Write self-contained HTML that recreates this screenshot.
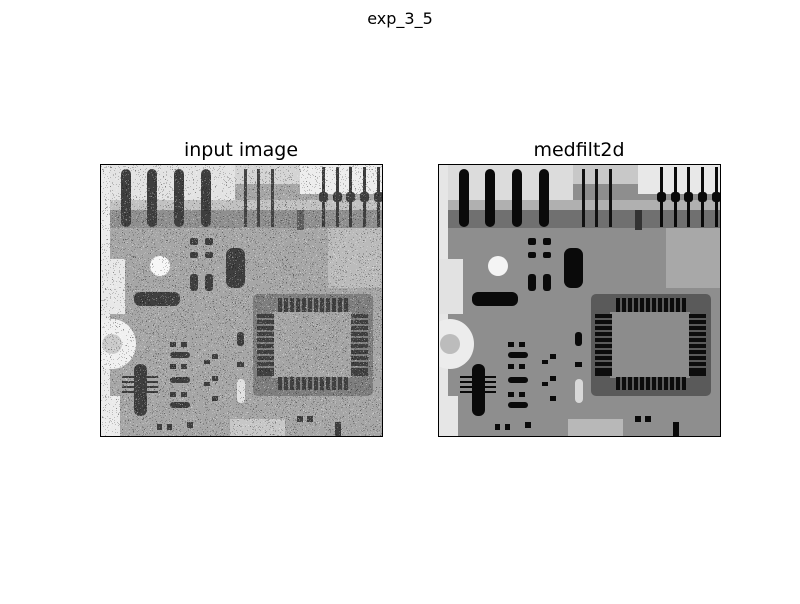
<!DOCTYPE html>
<html><head><meta charset="utf-8"><style>
html,body{margin:0;padding:0;background:#fff;}
body{width:800px;height:600px;overflow:hidden;font-family:"DejaVu Sans","Liberation Sans",sans-serif;}
</style></head><body>
<svg width="800" height="600" viewBox="0 0 800 600" xmlns="http://www.w3.org/2000/svg">
<defs>
  <clipPath id="clipL"><rect x="0" y="0" width="282" height="272"/></clipPath>
  <filter id="sp" x="0" y="0" width="1" height="1">
    <feTurbulence type="fractalNoise" baseFrequency="1.3" numOctaves="1" seed="4" result="n"/>
    <feColorMatrix in="n" type="matrix" values="1 0 0 0 0  1 0 0 0 0  1 0 0 0 0  1 0 0 0 0" result="g"/>
    <feComponentTransfer in="g">
      <feFuncR type="discrete" tableValues="0 0 0 0 0 1 1 1 1 1"/>
      <feFuncG type="discrete" tableValues="0 0 0 0 0 1 1 1 1 1"/>
      <feFuncB type="discrete" tableValues="0 0 0 0 0 1 1 1 1 1"/>
      <feFuncA type="discrete" tableValues="1 1 0.8 0 0 0 0 0.8 1 1"/>
    </feComponentTransfer>
  </filter>
  <g id="board">
    <rect x="0" y="0" width="282" height="272" fill="#8e8e8e"/>
    <rect x="0" y="0" width="135" height="36" fill="#dcdcdc"/>
    <rect x="0" y="36" width="282" height="10" fill="#b0b0b0"/>
    <rect x="0" y="46" width="282" height="18" fill="#707070"/>
    <rect x="200" y="0" width="82" height="30" fill="#e8e8e8"/>
    <rect x="135" y="0" width="65" height="20" fill="#c8c8c8"/>
    <rect x="0" y="0" width="10" height="272" fill="#e6e6e6"/>
    <rect x="0" y="95" width="25" height="55" fill="#e2e2e2"/>
    <ellipse cx="12" cy="180" rx="24" ry="25" fill="#ececec"/>
    <ellipse cx="12" cy="180" rx="10" ry="10" fill="#bcbcbc"/>
    <rect x="0" y="232" width="20" height="40" fill="#e6e6e6"/>
    <rect x="228" y="64" width="54" height="60" fill="#a8a8a8"/>
    <rect x="130" y="255" width="55" height="17" fill="#b8b8b8"/>
    <rect x="21" y="5" width="10" height="58" rx="5" fill="#0a0a0a"/>
    <rect x="47" y="5" width="10" height="58" rx="5" fill="#0a0a0a"/>
    <rect x="74" y="5" width="10" height="58" rx="5" fill="#0a0a0a"/>
    <rect x="101" y="5" width="10" height="58" rx="5" fill="#0a0a0a"/>
    <rect x="144" y="5" width="3" height="58" fill="#111"/>
    <rect x="157" y="5" width="3" height="58" fill="#111"/>
    <rect x="171" y="5" width="3" height="58" fill="#111"/>
    <rect x="197" y="46" width="7" height="20" fill="#333"/>
    <g fill="#0a0a0a">
      <rect x="222" y="3" width="3" height="60"/><rect x="219" y="28" width="9" height="10" rx="3"/>
      <rect x="236" y="3" width="3" height="60"/><rect x="233" y="28" width="9" height="10" rx="3"/>
      <rect x="249" y="3" width="3" height="60"/><rect x="246" y="28" width="9" height="10" rx="3"/>
      <rect x="263" y="3" width="3" height="60"/><rect x="260" y="28" width="9" height="10" rx="3"/>
      <rect x="277" y="3" width="3" height="60"/><rect x="274" y="28" width="9" height="10" rx="3"/>
    </g>
    <circle cx="60" cy="102" r="10" fill="#f4f4f4"/>
    <g fill="#0a0a0a">
      <rect x="90" y="74" width="8" height="7" rx="2"/><rect x="105" y="74" width="8" height="7" rx="2"/>
      <rect x="90" y="88" width="8" height="6" rx="2"/><rect x="105" y="88" width="8" height="6" rx="2"/>
      <rect x="90" y="110" width="8" height="17" rx="3"/><rect x="105" y="110" width="8" height="17" rx="3"/>
      <rect x="126" y="84" width="19" height="40" rx="7"/>
      <rect x="34" y="128" width="46" height="14" rx="6"/>
    </g>
    <rect x="153" y="130" width="120" height="102" rx="5" fill="#5a5a5a"/>
    <rect x="172" y="148" width="80" height="66" fill="#8c8c8c"/>
    <g fill="#0c0c0c">
      <rect x="178" y="134" width="70" height="14"/>
      <rect x="178" y="213" width="70" height="13"/>
      <rect x="157" y="150" width="17" height="62"/>
      <rect x="251" y="150" width="17" height="62"/>
    </g>
    <g stroke="#5a5a5a" stroke-width="2">
      <line x1="183" y1="134" x2="183" y2="148"/><line x1="189" y1="134" x2="189" y2="148"/><line x1="195" y1="134" x2="195" y2="148"/><line x1="201" y1="134" x2="201" y2="148"/><line x1="207" y1="134" x2="207" y2="148"/><line x1="213" y1="134" x2="213" y2="148"/><line x1="219" y1="134" x2="219" y2="148"/><line x1="225" y1="134" x2="225" y2="148"/><line x1="231" y1="134" x2="231" y2="148"/><line x1="237" y1="134" x2="237" y2="148"/><line x1="243" y1="134" x2="243" y2="148"/>
      <line x1="183" y1="213" x2="183" y2="226"/><line x1="189" y1="213" x2="189" y2="226"/><line x1="195" y1="213" x2="195" y2="226"/><line x1="201" y1="213" x2="201" y2="226"/><line x1="207" y1="213" x2="207" y2="226"/><line x1="213" y1="213" x2="213" y2="226"/><line x1="219" y1="213" x2="219" y2="226"/><line x1="225" y1="213" x2="225" y2="226"/><line x1="231" y1="213" x2="231" y2="226"/><line x1="237" y1="213" x2="237" y2="226"/><line x1="243" y1="213" x2="243" y2="226"/>
      <line x1="157" y1="155" x2="174" y2="155"/><line x1="157" y1="161" x2="174" y2="161"/><line x1="157" y1="167" x2="174" y2="167"/><line x1="157" y1="173" x2="174" y2="173"/><line x1="157" y1="179" x2="174" y2="179"/><line x1="157" y1="185" x2="174" y2="185"/><line x1="157" y1="191" x2="174" y2="191"/><line x1="157" y1="197" x2="174" y2="197"/><line x1="157" y1="203" x2="174" y2="203"/>
      <line x1="251" y1="155" x2="268" y2="155"/><line x1="251" y1="161" x2="268" y2="161"/><line x1="251" y1="167" x2="268" y2="167"/><line x1="251" y1="173" x2="268" y2="173"/><line x1="251" y1="179" x2="268" y2="179"/><line x1="251" y1="185" x2="268" y2="185"/><line x1="251" y1="191" x2="268" y2="191"/><line x1="251" y1="197" x2="268" y2="197"/><line x1="251" y1="203" x2="268" y2="203"/>
    </g>
    <g fill="#0a0a0a">
      <rect x="34" y="200" width="13" height="52" rx="6"/>
      <rect x="22" y="212" width="36" height="2"/><rect x="22" y="217" width="36" height="2"/><rect x="22" y="222" width="36" height="2"/><rect x="22" y="227" width="36" height="2"/>
      <rect x="70" y="178" width="6" height="5"/><rect x="81" y="178" width="6" height="5"/>
      <rect x="70" y="188" width="20" height="6" rx="3"/>
      <rect x="70" y="200" width="6" height="5"/><rect x="81" y="200" width="6" height="5"/>
      <rect x="70" y="213" width="20" height="6" rx="3"/>
      <rect x="70" y="228" width="6" height="5"/><rect x="81" y="228" width="6" height="5"/>
      <rect x="70" y="238" width="20" height="6" rx="3"/>
      <rect x="112" y="190" width="6" height="5"/><rect x="112" y="212" width="6" height="5"/><rect x="112" y="232" width="6" height="5"/>
      <rect x="104" y="196" width="6" height="4"/><rect x="104" y="218" width="6" height="4"/>
      <rect x="137" y="168" width="7" height="14" rx="3"/><rect x="137" y="198" width="7" height="5"/>
      <rect x="57" y="260" width="5" height="6"/><rect x="67" y="260" width="5" height="6"/><rect x="87" y="258" width="6" height="6"/>
      <rect x="197" y="252" width="6" height="6"/><rect x="207" y="252" width="6" height="6"/><rect x="235" y="258" width="6" height="14"/>
    </g>
    <rect x="137" y="215" width="8" height="24" rx="4" fill="#d8d8d8"/>
  </g>
</defs>

<text x="400" y="24" text-anchor="middle" font-size="16" fill="#000">exp_3_5</text>

<g>
  <text x="241" y="156" text-anchor="middle" font-size="19">input image</text>
  <g transform="translate(100,164)" clip-path="url(#clipL)">
    <use href="#board"/>
    <rect x="0" y="0" width="282" height="272" fill="#ffffff" opacity="0.22"/>
    <rect x="0" y="0" width="282" height="272" filter="url(#sp)"/>
  </g>
  <rect x="100.5" y="164.5" width="282" height="272" fill="none" stroke="#000" stroke-width="1"/>
</g>

<g>
  <text x="579" y="156" text-anchor="middle" font-size="19">medfilt2d</text>
  <g transform="translate(438,164)" clip-path="url(#clipL)">
    <use href="#board"/>
  </g>
  <rect x="438.5" y="164.5" width="282" height="272" fill="none" stroke="#000" stroke-width="1"/>
</g>
</svg>
</body></html>
